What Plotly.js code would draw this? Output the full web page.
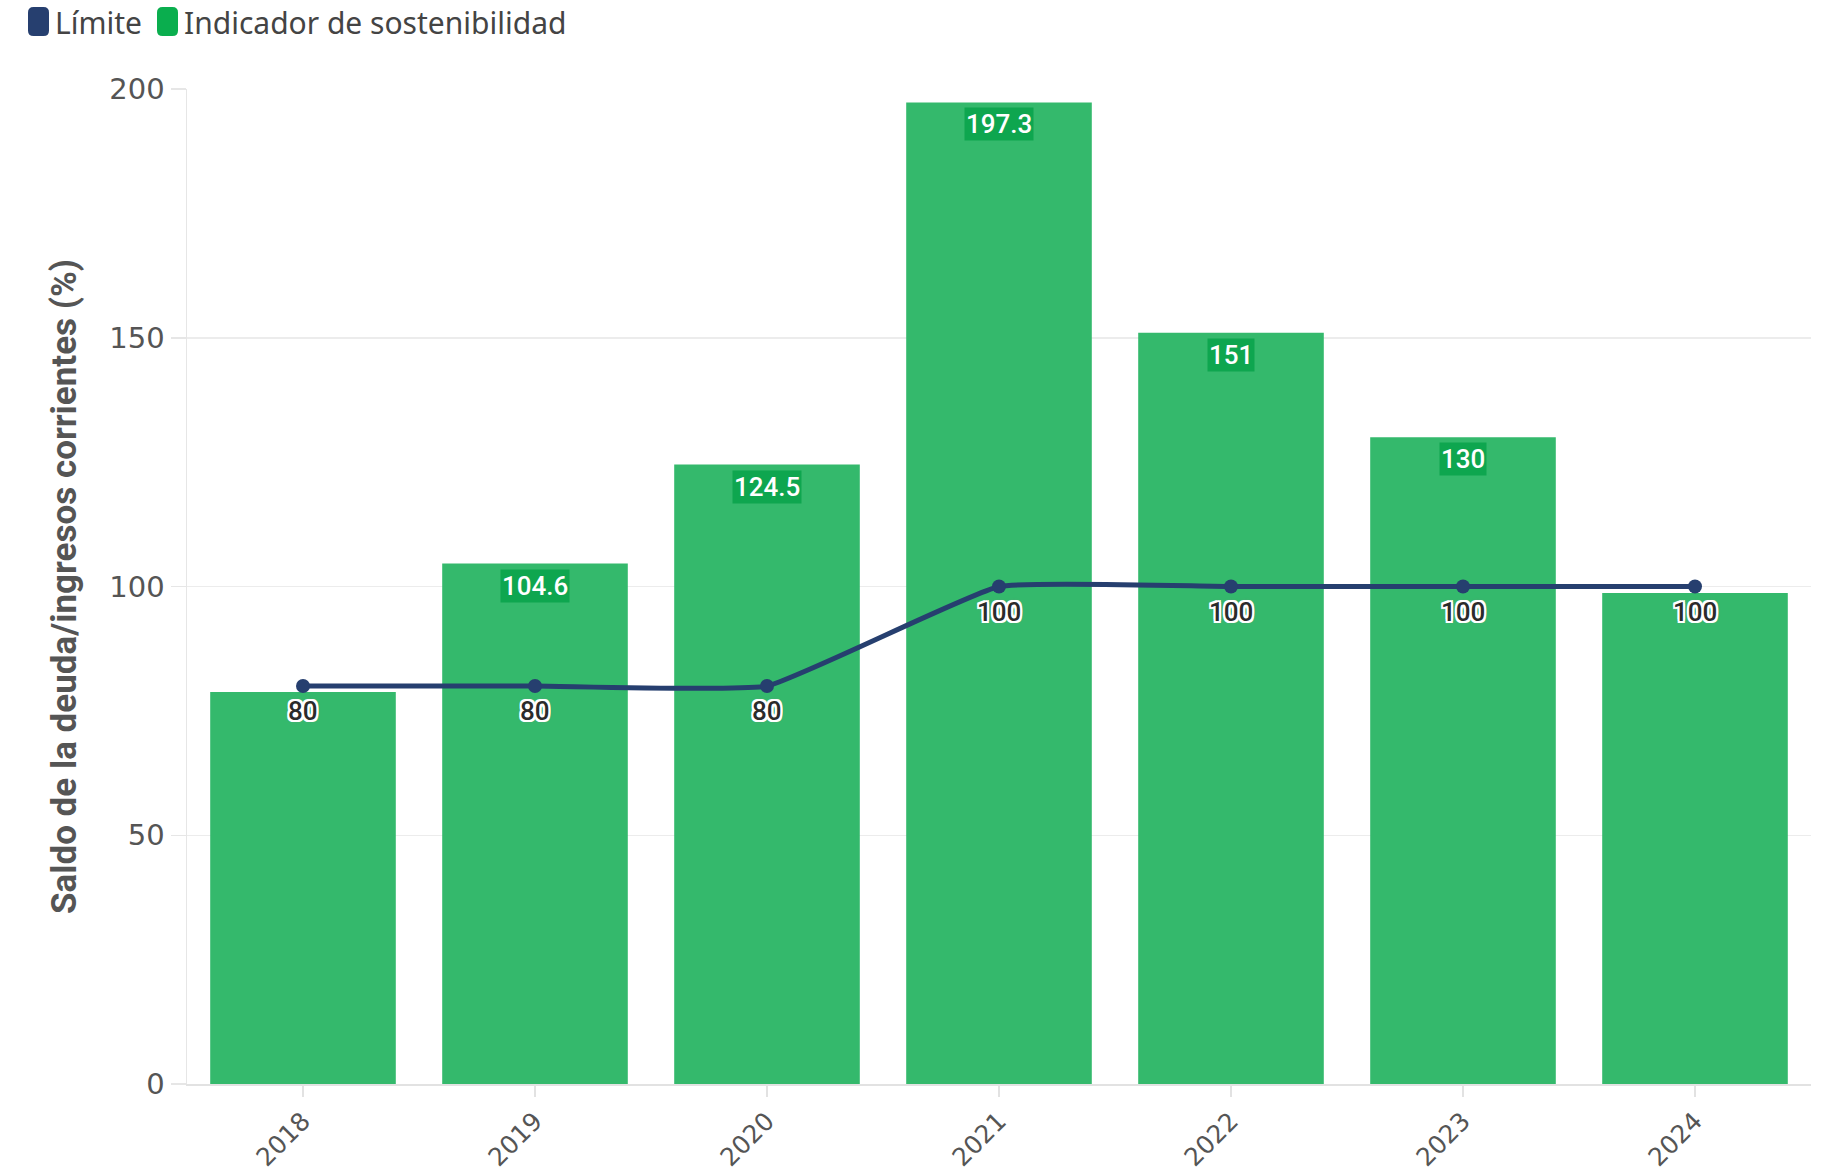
<!DOCTYPE html>
<html>
<head>
<meta charset="utf-8">
<script src="https://cdn.plot.ly/plotly-3.0.1.min.js"></script>
<style>
  html, body { margin: 0; padding: 0; background: #ffffff; }
  #chart { width: 1829px; height: 1174px; }
</style>
</head>
<body>
<div id="chart"></div>
<script>
// ---- Data ----
const years = ['2018', '2019', '2020', '2021', '2022', '2023', '2024'];
const indicador = [78.8, 104.6, 124.5, 197.3, 151, 130, 98.7];
const indicadorLabels = ['', '104.6', '124.5', '197.3', '151', '130', ''];
const limite = [80, 80, 80, 100, 100, 100, 100];
const limiteLabels = ['80', '80', '80', '100', '100', '100', '100'];
const yTicks = [0, 50, 100, 150, 200];
const legendNames = ['Límite', 'Indicador de sostenibilidad'];
const yTitle = 'Saldo de la deuda/ingresos corrientes (%)';

// ---- Styling ----
const W = 1829, H = 1174;
const M = { l: 187, r: 18, t: 89, b: 90 };
const plotW = W - M.l - M.r, plotH = H - M.t - M.b;
const px2x = px => (px - M.l) / plotW;
const py2y = py => (H - M.b - py) / plotH;

const navy = '#263f6f';
const barGreen = 'rgb(52,185,108)';
const labelGreen = '#0ea64f';
const legendGreen = '#0aae4e';
const halo = '2px 2px 0 #fff, -2px -2px 0 #fff, 2px -2px 0 #fff, -2px 2px 0 #fff, 0 2px 0 #fff, 0 -2px 0 #fff, 2px 0 0 #fff, -2px 0 0 #fff, 0 0 4px #888';

const bars = {
  type: 'bar',
  x: years,
  y: indicador,
  name: legendNames[1],
  marker: { color: barGreen },
  showlegend: false,
  hoverinfo: 'x+y'
};

const line = {
  type: 'scatter',
  mode: 'lines+markers',
  x: years,
  y: limite,
  name: legendNames[0],
  line: { color: navy, width: 5, shape: 'spline', smoothing: 0.35 },
  marker: { color: navy, size: 14 },
  showlegend: false,
  cliponaxis: false
};

const annotations = [];
// bar value labels as boxed annotations (category index positions)
years.forEach((yr, i) => {
  if (indicadorLabels[i] !== '') {
    annotations.push({
      x: i, y: indicador[i], xref: 'x', yref: 'y',
      text: indicadorLabels[i], showarrow: false,
      yanchor: 'top', yshift: -5,
      font: { family: 'Roboto', size: 26, color: '#ffffff', weight: 500 },
      bgcolor: labelGreen, borderpad: 1
    });
  }
});
// line value labels with white halo
years.forEach((yr, i) => {
  annotations.push({
    x: i, y: limite[i], xref: 'x', yref: 'y',
    text: limiteLabels[i], showarrow: false,
    yanchor: 'middle', yshift: -25,
    font: { family: 'Roboto', size: 26, color: '#2b2b2b', weight: 500, shadow: halo }
  });
});

// manual legend
const legColors = [navy, legendGreen];
const legMarkX = [38.5, 167.5];
const legTextX = [53, 182];
const legY = 21.5;
const rr = 'M -10.5,-9 Q -10.5,-14.5 -5,-14.5 L 5,-14.5 Q 10.5,-14.5 10.5,-9 L 10.5,9 Q 10.5,14.5 5,14.5 L -5,14.5 Q -10.5,14.5 -10.5,9 Z';
const shapes = [];
legendNames.forEach((nm, i) => {
  shapes.push({
    type: 'path', xref: 'paper', yref: 'paper',
    xsizemode: 'pixel', ysizemode: 'pixel',
    xanchor: px2x(legMarkX[i]), yanchor: py2y(legY),
    path: rr, fillcolor: legColors[i], line: { width: 0 }
  });
  annotations.push({
    xref: 'paper', yref: 'paper', x: px2x(legTextX[i]), y: py2y(legY + 1),
    xanchor: 'left', yanchor: 'middle', showarrow: false,
    text: nm, font: { family: 'Noto Sans', size: 30, color: '#444444' }
  });
});

const layout = {
  width: W, height: H,
  margin: M,
  paper_bgcolor: '#ffffff',
  plot_bgcolor: '#ffffff',
  showlegend: false,
  bargap: 0.2,
  font: { family: 'DejaVu Sans', color: '#555555' },
  xaxis: {
    type: 'category',
    range: [-0.5, 6.5],
    tickangle: -45,
    ticks: 'outside', ticklen: 11, tickcolor: '#e2e2e2', tickwidth: 1.5,
    showline: true, linecolor: '#e2e2e2', linewidth: 1.5,
    showgrid: false,
    tickfont: { family: 'DejaVu Sans', size: 25, color: '#555555' },
    automargin: false
  },
  yaxis: {
    range: [0, 200],
    tickvals: yTicks,
    ticks: 'outside', ticklen: 15, tickcolor: '#e6e6e6', tickwidth: 1.5,
    showline: true, linecolor: '#e6e6e6', linewidth: 1.5,
    gridcolor: '#ececec', gridwidth: 1.5,
    zeroline: false,
    tickfont: { family: 'DejaVu Sans', size: 29, color: '#555555' },
    title: {
      text: yTitle, standoff: 22,
      font: { family: 'Roboto', size: 35, color: '#555555', weight: 700 }
    },
    automargin: false
  },
  annotations: annotations,
  shapes: shapes
};

Plotly.newPlot('chart', [bars, line], layout, { displayModeBar: false, staticPlot: true });
</script>
</body>
</html>
